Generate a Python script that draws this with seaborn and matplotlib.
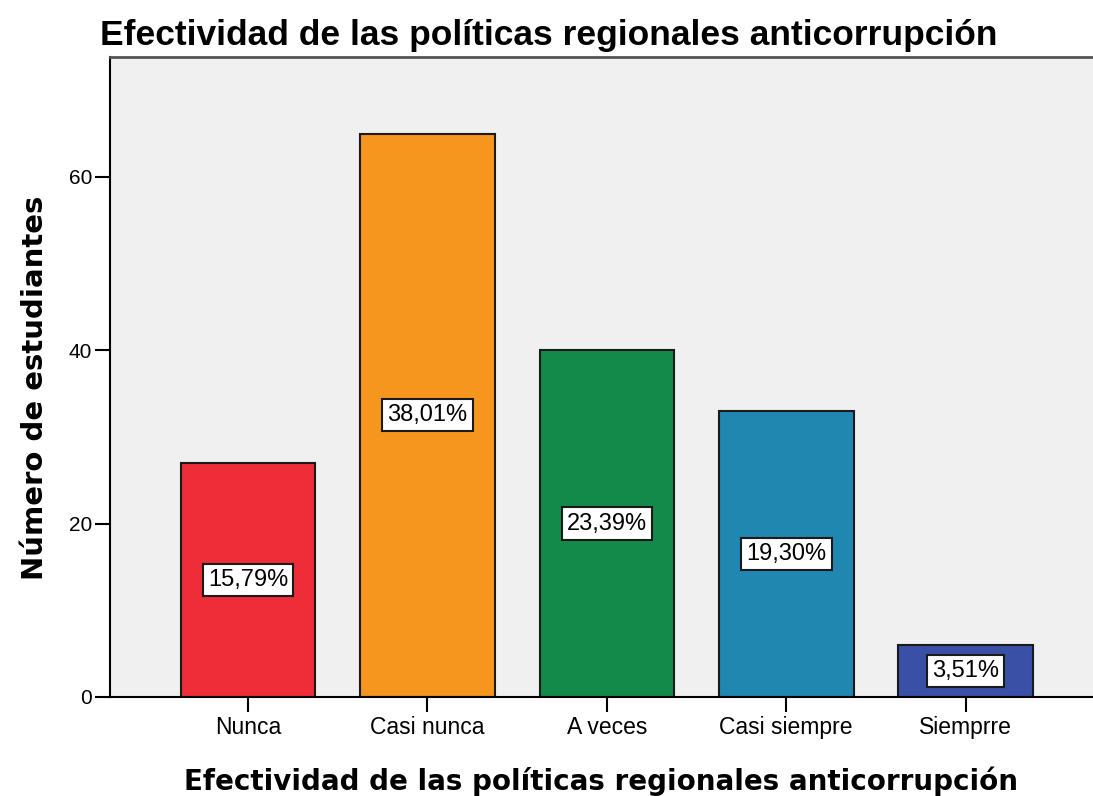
import pandas as pd
import numpy as np
import matplotlib.pyplot as plt
import seaborn as sns

categories = ["Nunca", "Casi nunca", "A veces", "Casi siempre", "Siemprre"]
counts = [27, 65, 40, 33, 6]
percent_labels = ["15,79%", "38,01%", "23,39%", "19,30%", "3,51%"]
bar_colors = ["#EE2D38", "#F7961E", "#138A4A", "#2088B0", "#3A50A6"]
y_ticks = [0, 20, 40, 60]

sns.set_style("white")
plt.rcParams["font.family"] = ["Liberation Sans", "DejaVu Sans"]
plt.rcParams["text.color"] = "black"
plt.rcParams["axes.labelcolor"] = "black"

df = pd.DataFrame({"categoria": categories, "n": counts})

fig = plt.figure(figsize=(10.93, 7.96), dpi=100)
ax = fig.add_axes([0.1006, 0.1244, 0.8994, 0.8036])
ax.set_facecolor("#F0F0F0")

sns.barplot(data=df, x="categoria", y="n", hue="categoria", palette=bar_colors,
            order=categories, hue_order=categories, legend=False,
            width=0.75, edgecolor="#1a1a1a", linewidth=1.5, saturation=1, ax=ax)

# etiquetas de porcentaje en el centro de cada barra
for i, (n, lab) in enumerate(zip(counts, percent_labels)):
    ax.text(i, n / 2, lab, ha="center", va="center",
            fontsize=17, color="black",
            bbox=dict(boxstyle="square,pad=0.22", fc="white", ec="#1a1a1a", lw=1.5))

ax.set_xlim(-0.77, 4.71)
ax.set_ylim(0, 73.8)
ax.set_yticks(y_ticks)
ax.tick_params(axis="both", which="both", direction="out", length=11, width=1.5,
               colors="black", left=True, bottom=True)
ax.tick_params(axis="x", labelsize=16.5, pad=3)
ax.tick_params(axis="y", labelsize=15, pad=2)

ax.spines["right"].set_visible(False)
ax.spines["left"].set_linewidth(1.5)
ax.spines["bottom"].set_linewidth(1.5)
ax.spines["top"].set_color("#555555")
ax.spines["top"].set_linewidth(2)
for side in ["left", "bottom"]:
    ax.spines[side].set_color("black")

ax.set_xlabel("Efectividad de las políticas regionales anticorrupción",
              fontsize=20, fontweight="bold", family="DejaVu Sans")
ax.xaxis.label.set_va("baseline")
ax.xaxis.set_label_coords(0.5, -0.145)

ax.set_ylabel("Número de estudiantes", fontsize=21, fontweight="bold",
              family="DejaVu Sans")
ax.yaxis.label.set_va("baseline")
ax.yaxis.set_label_coords(-0.068, 0.484)

fig.text(0.0915, 0.9435, "Efectividad de las políticas regionales anticorrupción",
         fontsize=25.5, fontweight="bold", va="baseline", ha="left")

fig.savefig("out.png", dpi=100, facecolor="white")
